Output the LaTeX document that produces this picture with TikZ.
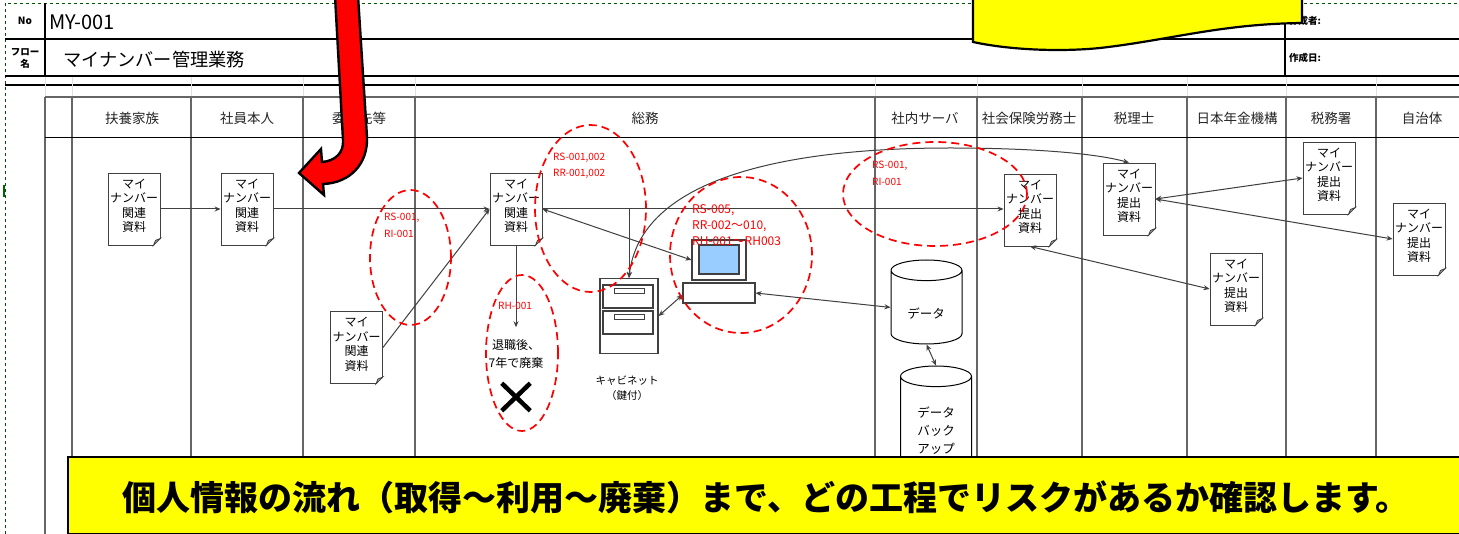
\documentclass[tikz,border=0pt]{standalone}
\usepackage{fontspec}
\setmainfont{Noto Sans CJK JP}
\usetikzlibrary{shapes,arrows,positioning,calc,shapes.geometric,shapes.misc,arrows.meta}
\definecolor{callout}{RGB}{255,255,0}
\newcommand{\fs}[2]{\fontsize{#1}{#2}\selectfont}
\newcommand{\kanren}{マイ\\ナンバー\\関連\\資料\\[-7pt]\mbox{}}
\newcommand{\teishutsu}{マイ\\ナンバー\\提出\\資料\\[-7pt]\mbox{}}

\begin{document}
\begin{tikzpicture}[
	x=1pt, y=-1pt,
	doc/.style={rectangle, draw=black!75, line width=0.9pt, fill=white, minimum width=52pt, minimum height=72pt, inner sep=0pt, align=center, font=\fs{12}{14.5}},
	colhead/.style={inner sep=0pt, font=\fs{13.5}{15}, text=black!85},
	redtag/.style={inner sep=0pt, anchor=west, text=red, font=\fs{10}{11}},
	redtagbig/.style={inner sep=0pt, anchor=west, text=red, font=\fs{12}{13}},
	oval/.style={ellipse, draw=red, line width=1.7pt, dash pattern=on 8pt off 5pt, inner sep=0pt},
	db/.style={cylinder, shape border rotate=90, aspect=0.55, anchor=shape center, draw=black, line width=1pt, fill=white, minimum width=71pt, inner sep=0pt, font=\fs{12.5}{18}},
	dbtext/.style={inner sep=0pt, align=center, font=\fs{12.5}{18}},
	link/.style={draw=black!75, line width=1pt, -{Stealth[length=6pt,width=5pt]}},
	twolink/.style={draw=black!75, line width=1pt, {Stealth[length=6pt,width=5pt]}-{Stealth[length=6pt,width=5pt]}},
	gridline/.style={draw=black!60, line width=1.1pt},
	headline/.style={draw=black, line width=1.5pt}
	]
	\useasboundingbox (0,0) rectangle (1459,534);
	\fill[white] (0,0) rectangle (1459,534);

	% page edge
	\draw[draw=black!45!green!60!black, line width=0.6pt, dashed] (5,534) -- (5,3) -- (1459,3);
	\fill[green!40!black] (2.5,185) rectangle (4.5,197);

	% header block
	\draw[headline] (5,39) -- (1459,39);
	\draw[headline] (5,76) -- (1459,76);
	\draw[draw=black, line width=2.4pt] (5,85) -- (1459,85);
	\draw[headline] (45,3) -- (45,76);
	\draw[headline] (1285,3) -- (1285,76);
	\node[inner sep=0pt, font=\fs{10}{11}\bfseries] (no) at (25,21) {No};
	\node[inner sep=0pt, align=center, font=\fs{9.5}{12}\bfseries] (flow) at (25,58) {フロー\\名};
	\node[inner sep=0pt, anchor=west, font=\fs{20}{22}] (number) at (49,22) {MY-001};
	\node[inner sep=0pt, anchor=west, font=\fs{18.2}{20}] (title) at (63,60) {マイナンバー管理業務};
	\node[inner sep=0pt, anchor=west, font=\fs{9.5}{11}\bfseries] (author) at (1289,21) {作成者:};
	\node[inner sep=0pt, anchor=west, font=\fs{9.5}{11}\bfseries] (created) at (1289,58) {作成日:};

	% swimlanes
	\foreach \xc in {72,191,303,415,875,977,1082,1187,1286,1376} {
		\draw[draw=black!12, line width=1pt] (\xc,77) -- (\xc,97);
		\draw[gridline] (\xc,97) -- (\xc,534);
	}
	\draw[draw=black!12, line width=1pt] (45,77) -- (45,97);
	\draw[gridline] (45,97) -- (45,534);
	\draw[gridline] (45,97) -- (1459,97);
	\draw[draw=black, line width=1pt] (45,138) -- (1459,138);
	\node[colhead] (fuyou) at (132,118) {扶養家族};
	\node[colhead] (honnin) at (247,118) {社員本人};
	\node[colhead] (itaku) at (359,118) {委託先等};
	\node[colhead] (soumu) at (645,118) {総務};
	\node[colhead] (server) at (925,118) {社内サーバ};
	\node[colhead] (sharoushi) at (1029,118) {社会保険労務士};
	\node[colhead] (zeirishi) at (1134,118) {税理士};
	\node[colhead] (nenkin) at (1237,118) {日本年金機構};
	\node[colhead] (zeimusho) at (1331,118) {税務署};
	\node[colhead] (jichitai) at (1422,118) {自治体};

	% documents
	\node[doc] (docFuyou) at (134,209) {\kanren};
	\node[doc] (docHonnin) at (247,209) {\kanren};
	\node[doc] (docItaku) at (356.5,347.5) {\kanren};
	\node[doc] (docSoumu) at (516,209) {\kanren};
	\node[doc] (docSharou) at (1030,210) {\teishutsu};
	\node[doc] (docZeiri) at (1129,199) {\teishutsu};
	\node[doc] (docNenkin) at (1236,289) {\teishutsu};
	\node[doc] (docZeimu) at (1329,178) {\teishutsu};
	\node[doc] (docJichi) at (1419,239) {\teishutsu};
	\foreach \n in {docFuyou,docHonnin,docItaku,docSoumu,docSharou,docZeiri,docNenkin,docZeimu,docJichi} {
		\fill[white] ($(\n.south east)+(-7,0.8)$) -- ($(\n.south east)+(0.8,0.8)$) -- ($(\n.south east)+(0.8,-7)$) -- cycle;
		\filldraw[draw=black!75, fill=black!35, line width=0.8pt] ($(\n.south east)+(-7,0)$) -- ($(\n.south east)+(0,-7)$) -- ($(\n.south east)+(-5,-5)$) -- cycle;
	}

	% cabinet
	\node[draw=black!75, line width=1.2pt, fill=white, minimum width=58pt, minimum height=75pt, inner sep=0pt] (cabinet) at (629,316) {};
	\node[draw=black!75, line width=1.1pt, minimum width=50pt, minimum height=23pt, inner sep=0pt] (drawerA) at (628,296.5) {};
	\node[draw=black!75, line width=1.1pt, minimum width=50pt, minimum height=23pt, inner sep=0pt] (drawerB) at (628,322.5) {};
	\node[draw=black!75, line width=0.9pt, minimum width=30pt, minimum height=5.5pt, inner sep=0pt] (handleA) at (629,291) {};
	\node[draw=black!75, line width=0.9pt, minimum width=30pt, minimum height=5.5pt, inner sep=0pt] (handleB) at (629,317) {};
	\node[inner sep=0pt, align=center, font=\fs{10.5}{15}] (cabinetText) at (627,388) {キャビネット\\（鍵付）};

	% computer
	\node[draw=black!75, line width=1.1pt, fill=white, minimum width=54pt, minimum height=40pt, inner sep=0pt] (monitor) at (719,260) {};
	\node[draw=black!75, line width=1.1pt, fill={rgb,255:red,153;green,204;blue,255}, minimum width=40pt, minimum height=29pt, inner sep=0pt] (screen) at (719,259.5) {};
	\node[draw=black!75, line width=1.1pt, fill=white, minimum width=72pt, minimum height=20pt, inner sep=0pt] (keyboard) at (719,293) {};

	% databases
	\node[db, minimum height=84pt] (data) at (926.5,302) {\phantom{データ}};
	\node[dbtext] (dataText) at (926,314) {データ};
	\node[db, minimum height=130pt] (backup) at (936,431) {\phantom{データ}};
	\node[dbtext] (backupText) at (936,431) {データ\\バック\\アップ};

	% disposal
	\node[inner sep=0pt, align=center, font=\fs{12}{18}] (disposal) at (516,354) {退職後、\\7年で廃棄};
	\node[cross out, draw=black, line width=4.5pt, minimum width=24pt, minimum height=23pt, inner sep=0pt] (crossmark) at (516,397) {};

	% arrows
	\coordinate (branch) at (629,209);
	\draw[link] (docFuyou) -- (docHonnin);
	\draw[link] (docHonnin) -- (docSoumu);
	\draw[link] (docItaku.east) -- (docSoumu.west);
	\draw[link] (docSoumu.east) -- (docSharou.west |- docSoumu.east);
	\draw[link] (branch) -- (cabinet.north);
	\draw[link, shorten >=12pt] (docSoumu.south) -- (disposal.north);
	\draw[twolink] (docSoumu.east) -- (monitor.west);
	\draw[twolink] (cabinet.east) -- ($(keyboard.west)+(0,2)$);
	\draw[twolink] (keyboard.east) -- (data.west);
	\draw[twolink] (data.south) -- (backup.north);
	\draw[twolink] (cabinet.north) .. controls (640,180) and (780,148) .. (950,148) .. controls (1020,148) and (1090,152) .. (docZeiri.north);
	\draw[twolink] (docZeiri.east) -- (docZeimu.west);
	\draw[twolink] (docZeiri.east) -- (docJichi.west);
	\draw[twolink] (docSharou.south) -- (docNenkin.west);

	% risk marks
	\node[oval, minimum width=81pt, minimum height=135pt] (ovalA) at (410.5,257.5) {};
	\node[oval, minimum width=111pt, minimum height=167pt] (ovalB) at (590.5,208.5) {};
	\node[oval, minimum width=142pt, minimum height=156pt] (ovalC) at (741,255) {};
	\node[oval, minimum width=184pt, minimum height=104pt] (ovalD) at (935,194) {};
	\node[oval, minimum width=72pt, minimum height=156pt] (ovalE) at (522,353) {};
	\node[redtag] (tagA1) at (384,218) {RS-001,};
	\node[redtag] (tagA2) at (384,234) {RI-001};
	\node[redtag] (tagB1) at (553,158) {RS-001,002};
	\node[redtag] (tagB2) at (553,174) {RR-001,002};
	\node[redtagbig] (tagC1) at (692,210) {RS-005,};
	\node[redtagbig] (tagC2) at (692,226) {RR-002〜010,};
	\node[redtagbig] (tagC3) at (692,241) {RH-001〜RH003};
	\node[redtag] (tagD1) at (872,166) {RS-001,};
	\node[redtag] (tagD2) at (872,182) {RI-001};
	\node[redtag] (tagE) at (498,306) {RH-001};

	% callouts
	\filldraw[draw=black, line width=2.2pt, fill=callout] (973,-4) -- (973,42) .. controls (1010,50) and (1060,52) .. (1100,48) .. controls (1170,40) and (1220,24) .. (1302,23) -- (1302,-4) -- cycle;
	\filldraw[draw=black, line width=2.4pt, fill=red] (335,-4) -- (343,140) .. controls (344,153) and (335,161) .. (322,162) -- (321,149) -- (299,173) -- (324,195) -- (323,184) .. controls (350,183) and (368,164) .. (367,137) -- (358,-4) -- cycle;
	\node[draw=black, line width=2.2pt, fill=callout, minimum width=1400pt, minimum height=77pt, anchor=north west, inner sep=0pt] (banner) at (67,455.5) {};
	\node[inner sep=0pt, font=\fs{34}{36}\bfseries] (bannerText) at (766,497) {個人情報の流れ（取得〜利用〜廃棄）まで、どの工程でリスクがあるか確認します。};
\end{tikzpicture}
\end{document}
